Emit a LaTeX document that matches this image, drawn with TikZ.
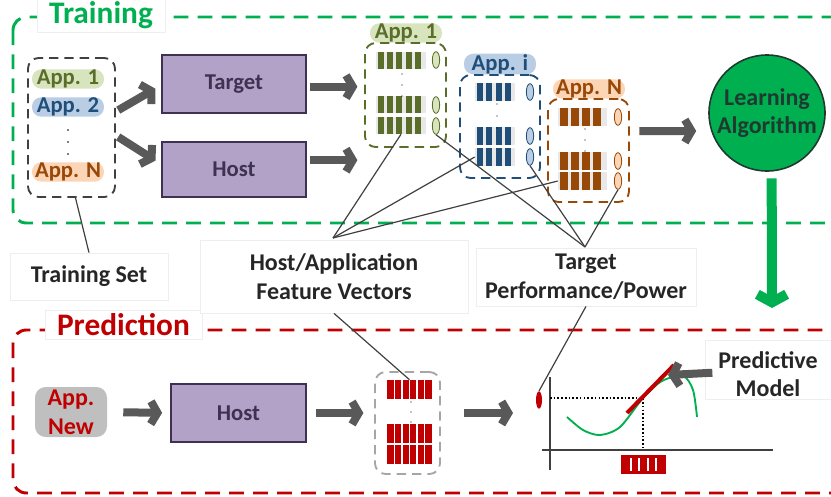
\documentclass[tikz,border=0pt]{standalone}
\usepackage{fontspec}
\setmainfont{Carlito}
\usetikzlibrary{arrows.meta,shapes.geometric,fit}

\definecolor{trainGreen}{HTML}{00B050}
\definecolor{predRed}{HTML}{C00000}
\definecolor{unitfill}{HTML}{B3A2C7}
\definecolor{unitline}{HTML}{3F3151}
\definecolor{unittext}{HTML}{3F3151}
\definecolor{olive}{HTML}{5A6E2A}
\definecolor{olivelt}{HTML}{D7E4BD}
\definecolor{navy}{HTML}{1F4E79}
\definecolor{navylt}{HTML}{B9CDE5}
\definecolor{brown}{HTML}{984807}
\definecolor{brownlt}{HTML}{FBD5B5}
\definecolor{rowgray}{HTML}{E8E8E8}
\definecolor{arrowgray}{HTML}{595959}
\definecolor{leadgray}{HTML}{404040}
\definecolor{setgray}{HTML}{404040}
\definecolor{faint}{HTML}{EEEEEE}
\definecolor{txtdark}{HTML}{262626}
\definecolor{ladark}{HTML}{1F3A30}
\definecolor{newgray}{HTML}{BFBFBF}

\begin{document}
\begin{tikzpicture}[x=0.75pt,y=-0.75pt,
	lbl/.style={font=\bfseries\fontsize{18}{21.5}\selectfont, align=center, text=txtdark},
	heading/.style={font=\bfseries\fontsize{23.5}{24}\selectfont},
	frame/.style={line width=2.2pt, dash pattern=on 11pt off 7pt, rounded corners=10pt},
	setbox/.style={line width=1.4pt, dash pattern=on 7pt off 4.5pt, rounded corners=8pt, inner sep=0pt},
	unit/.style={draw=unitline, fill=unitfill, line width=1.3pt, inner sep=0pt},
	unittxt/.style={text=unittext, font=\bfseries\fontsize{17}{20}\selectfont},
	pill/.style={rounded corners=7pt, inner xsep=2pt, inner ysep=0.4pt, minimum width=54pt, font=\bfseries\fontsize{17}{17}\selectfont},
	rowbg/.style={fill=rowgray, inner sep=0pt},
	vell/.style={ellipse, line width=0.6pt, inner sep=0pt, minimum width=5.5pt, minimum height=12.5pt},
	leader/.style={draw=leadgray, line width=0.9pt},
	faintbox/.style={draw=faint, fill=white, inner sep=0pt, line width=0.6pt},
	garrow/.style={draw=arrowgray, line width=6pt, -{Straight Barb[length=5pt,width=17pt]}},
	greenarrow/.style={draw=trainGreen, line width=7.5pt, -{Straight Barb[length=6pt,width=22pt]}},
]
\useasboundingbox (0,0) rectangle (831,496);

% frames
\draw[frame, draw=trainGreen] (13,17) rectangle (870,223);
\draw[frame, draw=predRed] (13,330) rectangle (870,493);
\node (trbox) [faintbox, fit={(37,-2) (165,32)}] {};
\node (trtitle) [heading, text=trainGreen] at (trbox) {Training};
\node (prbox) [faintbox, fit={(45,310) (202,339)}] {};
\node (prtitle) [heading, text=predRed] at (prbox) {Prediction};

% training set
\node (tset) [setbox, draw=setgray, fit={(28,58) (115,197)}] {};
\node (p1) [pill, fill=olivelt, text=olive] at (68,79) {App. 1};
\node (p2) [pill, fill=navylt, text=navy] at (68,107) {App. 2};
\node (pn) [pill, fill=brownlt, text=brown] at (68,172) {App. N};
\foreach \y in {130,142,154} \fill (68,\y) circle (0.6pt);

% target and host
\node (target) [unit, fit={(162,55) (306,113)}] {};
\node [unittxt] at (target) {Target};
\node (host) [unit, fit={(162,142) (306,197)}] {};
\node [unittxt] at (host) {Host};
\draw[garrow, shorten <=2pt, shorten >=5pt] ([yshift=12pt]tset.east) -- ([yshift=-1pt]target.west);
\draw[garrow, shorten <=2pt, shorten >=5pt] ([yshift=-6pt]tset.east) -- ([yshift=4pt]host.west);

% feature vectors of App. 1
\node (a1lbl) [pill, fill=olivelt, text=olive] at (406,33) {App. 1};
\node (a1box) [setbox, draw=olive, fit={(365,43) (446,147)}] {};
\foreach \r/\y in {1/52,2/96,3/117} {
	\node (a1r\r) [rowbg, fit={(376,\y) (426,\y+17)}] {};
	\foreach \i in {0,...,4} \fill[olive] (378+\i*9.2,\y) rectangle ++(6,17);
}
\foreach \r/\y in {1/60,2/105,3/126} \node (a1e\r) [vell, draw=olive, fill=olivelt] at (436,\y) {};
\foreach \y in {74,85,96} \fill (402,\y) circle (0.5pt);

% feature vectors of App. i
\node (ailbl) [pill, fill=navylt, text=navy] at (500,64) {App. i};
\node (aibox) [setbox, draw=navy, fit={(460,75) (540,178)}] {};
\foreach \r/\y in {1/83,2/127,3/148} {
	\node (air\r) [rowbg, fit={(475,\y) (515,\y+18)}] {};
	\foreach \i in {0,...,3} \fill[navy] (477+\i*9.3,\y) rectangle ++(6,18);
}
\foreach \r/\y in {1/92,2/136,3/157} \node (aie\r) [vell, draw=navy, fill=navylt] at (530,\y) {};
\foreach \y in {104,116,128} \fill (497,\y) circle (0.5pt);

% feature vectors of App. N
\node (anlbl) [pill, fill=brownlt, text=brown] at (589,89) {App. N};
\node (anbox) [setbox, draw=brown, fit={(548,99) (629,202)}] {};
\foreach \r/\y in {1/108,2/152,3/172} {
	\node (anr\r) [rowbg, fit={(558,\y) (607,\y+18)}] {};
	\foreach \i in {0,...,3} \fill[brown] (560+\i*11,\y) rectangle ++(8,18);
}
\foreach \r/\y in {1/117,2/161,3/181} \node (ane\r) [vell, draw=brown, fill=brownlt] at (618,\y) {};
\foreach \y in {129,140,151} \fill (585,\y) circle (0.5pt);

\draw[garrow, shorten <=2pt, shorten >=5pt] ([yshift=-2pt]target.east) -- ([yshift=-2pt]target.east -| a1box.west);
\draw[garrow, shorten <=2pt, shorten >=5pt] ([yshift=7pt]host.east) -- ([yshift=7pt]host.east -| a1box.west);

% learning algorithm
\node (la) [circle, fill=trainGreen, draw=ladark, line width=1.2pt, minimum size=87pt, inner sep=0pt, lbl, text=ladark] at (767,113) {Learning\\Algorithm};
\draw[garrow, shorten <=7pt, shorten >=9pt] ([yshift=14.5pt]anbox.east) -- ([yshift=-13.5pt]la.west);
\coordinate (gtip) at (772,308);
\draw[greenarrow] ([xshift=3.5pt,yshift=-5pt]la.south) -- (gtip);

% labels
\node (tslbl) [faintbox, fit={(10,253) (168,300)}] {};
\node [lbl] at (tslbl) {Training Set};
\node (fvbox) [faintbox, fit={(200,240) (468,313)}] {};
\node [lbl] at (fvbox) {Host/Application\\Feature Vectors};
\node (tpbox) [faintbox, fit={(476,248) (696,306)}] {};
\node [lbl] at (tpbox) {Target\\Performance/Power};
\draw[leader] ([xshift=3pt]tset.south) -- (tslbl.north);
\coordinate (fvtip) at (333,238);
\foreach \n in {a1r3.south, air3.west, anr3.west} \draw[leader] (fvtip) -- (\n);
\coordinate (tptip) at (585,247);
\foreach \n in {a1e3.south, aie3.south, ane3.south} \draw[leader] (tptip) -- (\n);

% prediction
\node (newapp) [fill=newgray, rounded corners=8pt, inner sep=0pt, fit={(35,387) (107,437)}] {};
\node [lbl, text=predRed] at (newapp) {App.\\New};
\node (host2) [unit, fit={(171,384) (306,442)}] {};
\node [unittxt] at (host2) {Host};
\node (pvbox) [setbox, draw=gray!70, fit={(375,372) (440,474)}] {};
\foreach \r/\y in {1/380,2/424,3/445} {
	\node (pr\r) [fill=predRed, inner sep=0pt, fit={(387,\y) (432,\y+19)}] {};
	\foreach \i in {1,...,5} \draw[white, line width=1.1pt] (387+\i*7.5,\y) -- ++(0,19);
}
\foreach \y in {402,412,422} \fill (411,\y) circle (0.5pt);
\draw[garrow, shorten <=12pt, shorten >=6pt] (newapp.east) -- (host2.west);
\draw[garrow, shorten <=7pt, shorten >=8pt] (host2.east) -- (host2.east -| pvbox.west);
\coordinate (pin) at (513,413);
\draw[garrow, shorten <=17pt] (pin -| pvbox.east) -- (pin);

% predictive model plot
\draw[leadgray, line width=1.3pt] (550,377) -- (550,470);
\draw[leadgray, line width=1.3pt] (542,450) -- (773,450);
\node (pe) [ellipse, fill=predRed, inner sep=0pt, minimum width=4.5pt, minimum height=13pt] at (539,400) {};
\coordinate (op) at (643,398);
\draw[black, line width=1.6pt, dash pattern=on 1.2pt off 1.6pt] (550,398) -- (op) -- (643,450);
\draw[trainGreen, line width=1.4pt] plot[smooth] coordinates {(567,417) (583,430) (600,435) (620,427) (643,398) (662,381) (683,376) (693,390) (697,417)};
\draw[predRed, line width=3pt] (627,413) -- (674,365);
\node (pv) [fill=predRed, draw=predRed, line width=0.8pt, inner sep=0pt, fit={(622,456) (665,473)}] {};
\foreach \i in {1,...,4} \draw[white, line width=1.4pt] (622+\i*8.6,458) -- ++(0,13);
\draw[leader] (tpbox.south) -- (pe.north);
\draw[leader] (fvbox.south) -- (pr1.north);
\node (pmbox) [faintbox, fit={(705,340) (850,399)}] {};
\node (pm) [lbl] at (768,374) {Predictive\\Model};
\coordinate (pmtip) at (668,375);
\draw[garrow, shorten <=1pt] ([yshift=1pt]pm.west) -- (pmtip);

\end{tikzpicture}
\end{document}
